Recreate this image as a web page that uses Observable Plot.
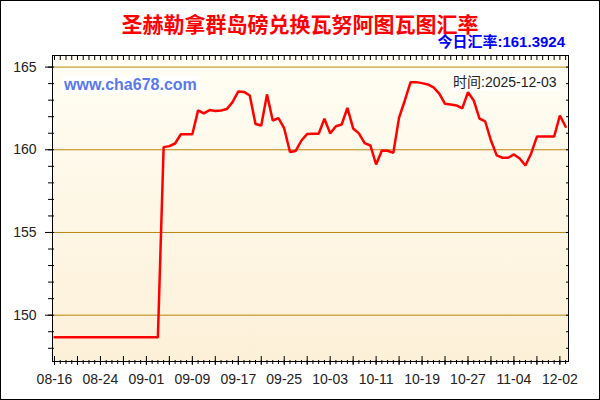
<!DOCTYPE html>
<html>
<head>
<meta charset="utf-8">
<script src="https://cdn.jsdelivr.net/npm/d3@7"></script>
<script src="https://cdn.jsdelivr.net/npm/@observablehq/plot@0.6"></script>
<style>
  body { margin: 0; background: #fff; }
  #wrap { position: relative; width: 600px; height: 400px; overflow: hidden; font-family: "Liberation Sans", Arial, sans-serif; }
  #chart { position: absolute; left: 0; top: 0; }
  #border { position: absolute; left: 0; top: 0; width: 600px; height: 400px; box-sizing: border-box; border: 1px solid #000; pointer-events: none; }
  #title { position: absolute; left: 0; top: 12px; width: 600px; text-align: center; font: bold 21px/22px "Noto Sans CJK SC", sans-serif; color: #ff0000; }
  #rate { position: absolute; right: 35px; top: 34px; font: bold 15px/16px "Liberation Sans", "Noto Sans CJK SC", sans-serif; color: #0000ff; white-space: nowrap; }
  #wm { position: absolute; left: 62px; top: 76px; padding: 0 3px 0 2px; background: #fff; font: bold 16px/17px "Liberation Sans", Arial, sans-serif; color: #5b78ef; white-space: nowrap; }
  #time { position: absolute; left: 451px; top: 74px; padding: 0 2px; background: #fff; font: 14px/17px "Liberation Sans", "Noto Sans CJK SC", sans-serif; color: #222; white-space: nowrap; }
</style>
</head>
<body>
<div id="wrap">
  <div id="chart"></div>
  <div id="title"></div>
  <div id="rate"></div>
  <div id="wm"></div>
  <div id="time"></div>
  <div id="border"></div>
</div>
<script>
// ---- data ----
const titleText = "圣赫勒拿群岛磅兑换瓦努阿图瓦图汇率";
const rateText = "今日汇率:161.3924";
const watermarkText = "www.cha678.com";
const timeText = "时间:2025-12-03";

const values = [
  148.66, 148.66, 148.66, 148.66, 148.66, 148.66, 148.66, 148.66, 148.66, 148.66,
  148.66, 148.66, 148.66, 148.66, 148.66, 148.66, 148.66, 148.66, 148.66, 160.16,
  160.22, 160.38, 160.94, 160.94, 160.94, 162.38, 162.20, 162.40, 162.35, 162.38,
  162.46, 162.88, 163.53, 163.50, 163.28, 161.56, 161.47, 163.35, 161.77, 161.92,
  161.29, 159.87, 159.93, 160.56, 160.96, 160.97, 160.97, 161.88, 160.99, 161.42,
  161.53, 162.53, 161.29, 160.99, 160.40, 160.26, 159.11, 159.96, 159.94, 159.81,
  161.95, 162.98, 164.09, 164.09, 164.03, 163.95, 163.77, 163.39, 162.78, 162.74,
  162.68, 162.50, 163.48, 162.98, 161.88, 161.71, 160.56, 159.66, 159.52, 159.52,
  159.72, 159.47, 159.05, 159.78, 160.80, 160.80, 160.80, 160.80, 162.07, 161.39
];
const tickLabels = ["08-16","08-24","09-01","09-09","09-17","09-25","10-03","10-11","10-19","10-27","11-04","12-02"];
const tickIndex  = [0, 8, 16, 24, 32, 40, 48, 56, 64, 72, 80, 88];
const yLabelTicks = [150, 155, 160, 165];
const yMinorTicks = [148, 149, 150, 151, 152, 153, 154, 155, 156, 157, 158, 159, 160, 161, 162, 163, 164, 165];

// ---- build ----
document.getElementById("title").textContent = titleText;
document.getElementById("rate").textContent = rateText;
document.getElementById("wm").textContent = watermarkText;
document.getElementById("time").textContent = timeText;

const data = values.map((v, i) => ({i, v}));
const allIdx = values.map((_, i) => i);
const majorIdx = allIdx.filter(i => i % 4 === 0);

const defs = () => {
  const d = d3.create("svg:defs");
  const g = d.append("linearGradient").attr("id", "bg").attr("x1", 0).attr("y1", 0).attr("x2", 0).attr("y2", 1);
  g.append("stop").attr("offset", "0%").attr("stop-color", "#fffef4");
  g.append("stop").attr("offset", "100%").attr("stop-color", "#fdf0d8");
  return d.node();
};

const blank = () => "";

const chart = Plot.plot({
  width: 600,
  height: 400,
  marginLeft: 52,
  marginRight: 32,
  marginTop: 55,
  marginBottom: 39,
  x: {domain: [-0.35, 89.5], axis: null},
  y: {domain: [147.2, 165.7], axis: null},
  style: {background: "transparent", fontFamily: "'Liberation Sans', Arial, sans-serif", fontSize: "14px", color: "#222"},
  marks: [
    defs,
    Plot.frame({fill: "url(#bg)", stroke: null}),
    Plot.ruleY(yLabelTicks, {stroke: "#b8860b", strokeWidth: 1}),
    Plot.line(data, {x: "i", y: "v", stroke: "#ff0000", strokeWidth: 2.5, strokeLinejoin: "miter"}),
    Plot.frame({stroke: "#000", strokeWidth: 1}),
    Plot.axisX(allIdx, {anchor: "bottom", tickSize: 4, dy: -1, tickFormat: blank, label: null, stroke: "#000"}),
    Plot.axisX(majorIdx, {anchor: "bottom", tickSize: 9, dy: -5, tickFormat: blank, label: null, stroke: "#000"}),
    Plot.axisX(tickIndex, {anchor: "bottom", tickSize: 0, tickPadding: 13, label: null, fill: "#222",
      tickFormat: d => tickLabels[tickIndex.indexOf(d)]}),
    Plot.axisX(allIdx, {anchor: "top", tickSize: 4, dy: 4, tickFormat: blank, label: null, stroke: "#000"}),
    Plot.axisY(yMinorTicks, {anchor: "left", tickSize: 6, dx: 2, tickFormat: blank, label: null, stroke: "#000"}),
    Plot.axisY(yLabelTicks, {anchor: "left", tickSize: 7, tickPadding: 9, label: null, stroke: "#000", fill: "#222",
      tickFormat: d => String(d)}),
    Plot.axisY(yMinorTicks, {anchor: "right", tickSize: 3, dx: -3, tickFormat: blank, label: null, stroke: "#000"})
  ]
});
document.getElementById("chart").appendChild(chart);
</script>
</body>
</html>
